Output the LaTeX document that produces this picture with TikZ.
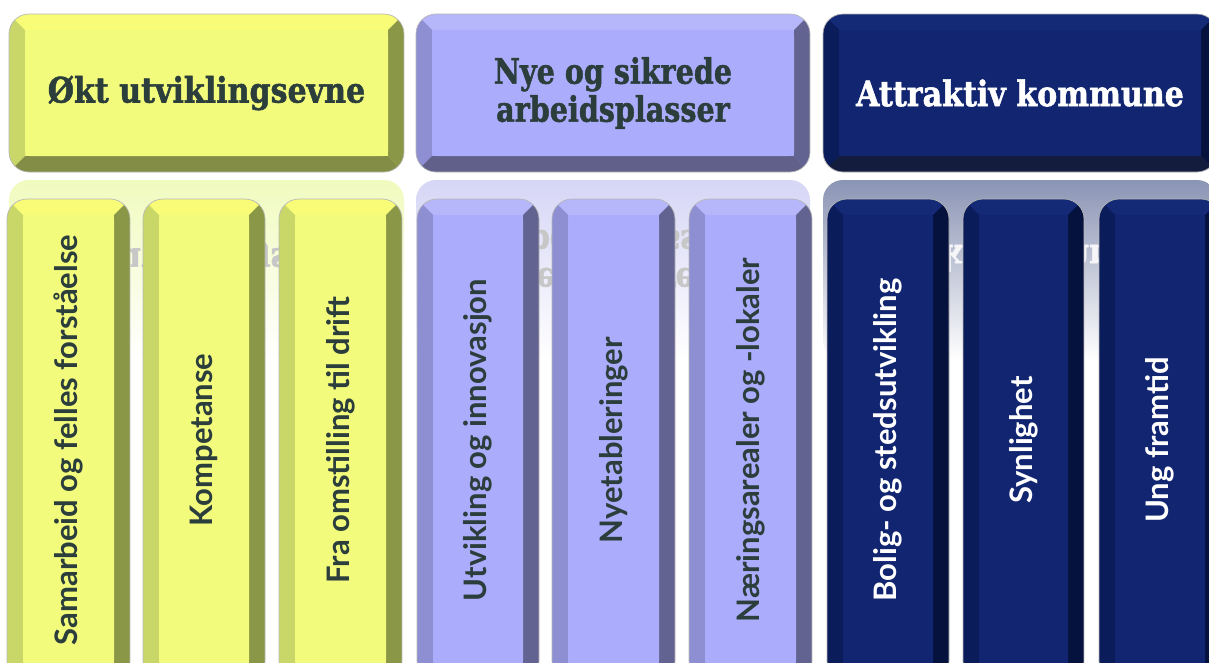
\documentclass[tikz,border=0pt]{standalone}
\usepackage{fontspec}
\newfontfamily\headfont{DejaVu Serif}[BoldFeatures={FakeBold=1.6}]
\newfontfamily\subfont{Lato}
\definecolor{txt}{RGB}{44,62,60}
\definecolor{Yface}{RGB}{243,251,125}
\definecolor{Ytop}{RGB}{249,252,118}
\definecolor{Yleft}{RGB}{200,215,104}
\definecolor{Yright}{RGB}{138,151,70}
\definecolor{Ybot}{RGB}{131,141,70}
\definecolor{Ybg}{RGB}{240,251,190}
\definecolor{Pface}{RGB}{172,172,252}
\definecolor{Ptop}{RGB}{182,182,250}
\definecolor{Pleft}{RGB}{142,142,210}
\definecolor{Pright}{RGB}{99,99,146}
\definecolor{Pbot}{RGB}{96,96,138}
\definecolor{Pbg}{RGB}{214,214,246}
\definecolor{Nface}{RGB}{17,37,112}
\definecolor{Ntop}{RGB}{20,42,118}
\definecolor{Nleft}{RGB}{11,28,90}
\definecolor{Nright}{RGB}{6,18,62}
\definecolor{Nbot}{RGB}{20,28,62}
\definecolor{Nbg}{RGB}{138,148,180}
\newcommand\bevbox[5]{%
  \begin{scope}
    \clip[rounded corners=20pt] (#1,#2) rectangle (#3,#4);
    \fill[#5face] (#1,#2) rectangle (#3,#4);
    \fill[#5top] (#1,#2) -- (#3,#2) -- ({#3-16},{#2+16}) -- ({#1+16},{#2+16}) -- cycle;
    \fill[#5left] (#1,#2) -- ({#1+16},{#2+16}) -- ({#1+16},{#4-16}) -- (#1,#4) -- cycle;
    \fill[#5right] (#3,#2) -- ({#3-16},{#2+16}) -- ({#3-16},{#4-16}) -- (#3,#4) -- cycle;
    \fill[#5bot] (#1,#4) -- ({#1+16},{#4-16}) -- ({#3-16},{#4-16}) -- (#3,#4) -- cycle;
    \fill[#5face, rounded corners=5pt] ({#1+16},{#2+16}) rectangle ({#3-16},{#4-16});
  \end{scope}
  \draw[outline, rounded corners=20pt] (#1,#2) rectangle (#3,#4);
}
\tikzset{
  outline/.style={draw=black!28, line width=0.7pt},
  headtext/.style={font=\headfont\bfseries\fontsize{35}{38}\selectfont, text=txt, align=center, xscale=0.86, inner sep=0pt},
  subtext/.style={font=\subfont\bfseries\fontsize{31}{36}\selectfont, text=txt, rotate=90, inner sep=0pt},
  refltext/.style={headtext, yscale=-1, text=black!22},
}
\begin{document}
\begin{tikzpicture}[x=1pt,y=-1pt]
\useasboundingbox (0,0) rectangle (1209,662);
\clip (0,0) rectangle (1209,662);
\fill[white] (0,0) rectangle (1209,662);
% reflections
\shade[top color=Ybg, bottom color=white, rounded corners=20pt] (9,180) rectangle (404,360);
\shade[top color=Pbg, bottom color=white, rounded corners=20pt] (416,180) rectangle (810,360);
\shade[top color=Nbg, bottom color=white, rounded corners=20pt] (823,180) rectangle (1217,360);
\node[refltext] (ry) at (206.5,258) {Økt utviklingsevne};
\node[refltext, xscale=0.95] (rp) at (613,259) {Nye og sikrede\\arbeidsplasser};
\node[refltext, text=white!92!Nbg] (rn) at (1020,258) {Attraktiv kommune};
% header boxes
\bevbox{9}{14}{404}{172}{Y}
\bevbox{416}{14}{810}{172}{P}
\bevbox{823}{14}{1217}{172}{N}
\node[headtext] (hy) at (206.5,93) {Økt utviklingsevne};
\node[headtext, xscale=0.95] (hp) at (613,93) {Nye og sikrede\\arbeidsplasser};
\node[headtext, text=white] (hn) at (1020,93) {Attraktiv kommune};
% sub boxes
\bevbox{7}{199}{130}{681}{Y}
\bevbox{143}{199}{265}{681}{Y}
\bevbox{279}{199}{402}{681}{Y}
\bevbox{417}{199}{539}{681}{P}
\bevbox{552}{199}{675}{681}{P}
\bevbox{689}{199}{812}{681}{P}
\bevbox{827}{199}{949}{681}{N}
\bevbox{963}{199}{1084}{681}{N}
\bevbox{1099}{199}{1221}{681}{N}
\node[subtext] (y1) at (68.5,440) {Samarbeid og felles forståelse};
\node[subtext] (y2) at (204,440) {Kompetanse};
\node[subtext] (y3) at (340.5,440) {Fra omstilling til drift};
\node[subtext] (p1) at (478,440) {Utvikling og innovasjon};
\node[subtext] (p2) at (613.5,440) {Nyetableringer};
\node[subtext] (p3) at (750.5,440) {Næringsarealer og -lokaler};
\node[subtext, text=white] (n1) at (888,440) {Bolig- og stedsutvikling};
\node[subtext, text=white] (n2) at (1023.5,440) {Synlighet};
\node[subtext, text=white] (n3) at (1160,440) {Ung framtid};
\end{tikzpicture}
\end{document}
